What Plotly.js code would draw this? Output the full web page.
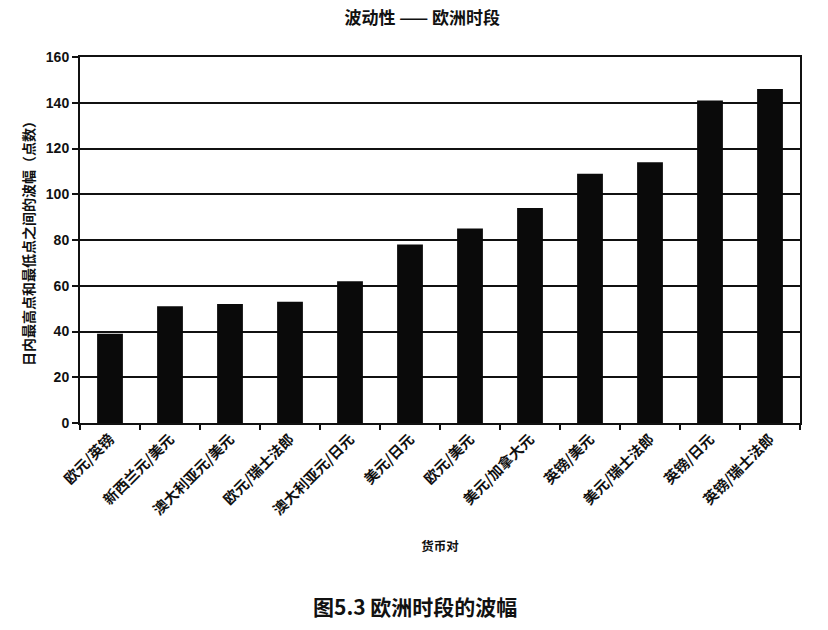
<!DOCTYPE html>
<html>
<head>
<meta charset="utf-8">
<script src="https://cdn.plot.ly/plotly-3.0.1.min.js"></script>
<style>html,body{margin:0;padding:0;background:#fff;}#chart{width:828px;height:630px;}</style>
</head>
<body>
<div id="chart"></div>
<script>
const categories = ["欧元/英镑","新西兰元/美元","澳大利亚元/美元","欧元/瑞士法郎","澳大利亚元/日元","美元/日元","欧元/美元","美元/加拿大元","英镑/美元","美元/瑞士法郎","英镑/日元","英镑/瑞士法郎"];
const values = [39, 51, 52, 53, 62, 78, 85, 94, 109, 114, 141, 146];
const yTicks = [0, 20, 40, 60, 80, 100, 120, 140, 160];
const chartTitle = "波动性 —— 欧洲时段";
const xTitle = "货币对";
const yTitle = "日内最高点和最低点之间的波幅（点数）";
const caption = "图5.3 欧洲时段的波幅";

const cjk = '"Noto Sans CJK SC", "Noto Sans", sans-serif';
const num = '"Liberation Sans Narrow", "Liberation Sans", Arial, sans-serif';

Plotly.newPlot('chart', [{
  type: 'bar',
  x: categories,
  y: values,
  marker: {color: '#0a0a0a', line: {width: 0}},
  hoverinfo: 'x+y'
}], {
  width: 828, height: 630,
  margin: {l: 80, r: 28, t: 57, b: 207},
  paper_bgcolor: '#fff', plot_bgcolor: '#fff',
  bargap: 0.57,
  showlegend: false,
  title: {text: '<b>' + chartTitle + '</b>', x: 0.51, xanchor: 'center', y: 0.971, yanchor: 'middle',
          font: {family: cjk, size: 17, color: '#111'}},
  xaxis: {
    type: 'category',
    tickangle: -45,
    tickson: 'boundaries',
    ticks: 'outside', ticklen: 5, tickwidth: 1.5, tickcolor: '#111',
    showline: true, linecolor: '#111', linewidth: 2, mirror: true,
    showgrid: false,
    tickfont: {family: cjk, size: 14.5, color: '#111', weight: 'bold'},
    title: {text: '<b>' + xTitle + '</b>', font: {family: cjk, size: 12.5, color: '#111'}, standoff: 24},
    automargin: false
  },
  yaxis: {
    range: [0, 160],
    tickvals: yTicks,
    ticks: 'outside', ticklen: 6, tickwidth: 1.5, tickcolor: '#111',
    showline: true, linecolor: '#111', linewidth: 2, mirror: true,
    showgrid: true, gridcolor: '#111', gridwidth: 1.5,
    zeroline: false,
    tickfont: {family: num, size: 14, color: '#111', weight: 'bold'},
    title: {text: '<b>' + yTitle + '</b>', font: {family: cjk, size: 14, color: '#111'}, standoff: 8},
    automargin: false
  },
  annotations: [{
    text: '<b>' + caption + '</b>', xref: 'paper', yref: 'paper', x: 0.465, y: -0.5, xanchor: 'center', yanchor: 'middle',
    showarrow: false, font: {family: cjk, size: 21, color: '#111'}
  }]
}, {displayModeBar: false});
</script>
</body>
</html>
